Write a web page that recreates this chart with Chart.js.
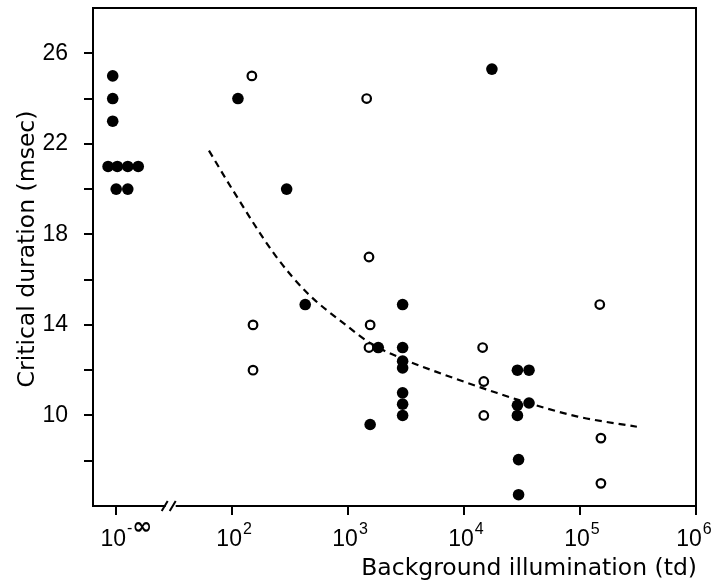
<!DOCTYPE html>
<html lang="en">
<head>
    <meta charset="UTF-8">
    <title>Critical duration vs background illumination</title>
    <script src="https://cdn.jsdelivr.net/npm/chart.js"></script>
    <style>
        html, body { margin: 0; padding: 0; background: #fff; }
        #wrap { width: 713px; height: 580px; }
    </style>
</head>
<body>
    <div id="wrap"><canvas id="durationChart"></canvas></div>

    <script>
        // x values are log10 of illumination (td); 1 stands for the 10^-inf column
        const tickPos = [1, 2, 3, 4, 5, 6];
        const tickBase = '10';
        const tickExp = ['-∞', '2', '3', '4', '5', '6'];
        const yLabelled = [10, 14, 18, 22, 26];

        // filled circles
        const filledX = [0.97, 0.97, 0.97, 0.93, 1.01, 1.10, 1.19, 1.00, 1.10,
                         2.05, 2.47, 2.63, 3.19, 3.26,
                         3.47, 3.47, 3.47, 3.47, 3.47, 3.47, 3.47,
                         4.24, 4.46, 4.56, 4.46, 4.56, 4.46, 4.47, 4.47];
        const filledY = [25, 24, 23, 21, 21, 21, 21, 20, 20,
                         24, 20, 14.9, 9.6, 13,
                         14.9, 13, 12.4, 12.1, 11, 10.5, 10,
                         25.3, 12, 12, 10.45, 10.55, 10, 8.05, 6.5];

        // open circles
        const openX = [2.17, 3.16, 2.18, 2.18, 3.18, 3.19, 3.18, 4.16, 4.17, 4.17, 5.17, 5.18, 5.18];
        const openY = [25, 24, 14, 12, 17, 14, 13, 13, 11.5, 10, 14.9, 9, 7];

        // dashed fitted curve
        const curveX = [1.80, 2.00, 2.375, 2.65, 2.98, 3.19, 3.47, 3.83, 4.28, 4.46, 4.98, 5.49];
        const curveY = [21.7, 20.0, 17.05, 15.4, 14.0, 13.2, 12.5, 11.8, 11.0, 10.7, 9.95, 9.5];

        const pts = (xs, ys) => xs.map((x, i) => ({ x: x, y: ys[i] }));

        // frame, // break, x tick labels with exponents, axis titles
        const framePlugin = {
            id: 'frame',
            afterDraw(chart) {
                const { ctx, chartArea: a, scales } = chart;
                ctx.save();
                ctx.strokeStyle = '#000';
                ctx.lineWidth = 2;
                ctx.strokeRect(a.left, a.top, a.right - a.left, a.bottom - a.top);

                const bx = scales.x.getPixelForValue(1.47);
                ctx.fillStyle = '#fff';
                ctx.fillRect(bx - 5, a.bottom - 3, 10, 6);
                ctx.beginPath();
                ctx.moveTo(bx - 9, a.bottom + 5);
                ctx.lineTo(bx - 3, a.bottom - 5);
                ctx.moveTo(bx - 1, a.bottom + 5);
                ctx.lineTo(bx + 5, a.bottom - 5);
                ctx.stroke();

                ctx.fillStyle = '#000';
                ctx.textBaseline = 'alphabetic';
                tickPos.forEach((v, i) => {
                    const shift = i === tickPos.length - 1 ? 7 : 3;
                    const px = scales.x.getPixelForValue(v) - shift;
                    ctx.font = '23px "Liberation Sans"';
                    ctx.textAlign = 'center';
                    ctx.fillText(tickBase, px, a.bottom + 40);
                    const w = ctx.measureText(tickBase).width;
                    ctx.textAlign = 'left';
                    const ex = px + w / 2 + 1;
                    if (tickExp[i] === '-∞') {
                        ctx.font = '16px "Liberation Sans"';
                        ctx.fillText('-', ex, a.bottom + 27);
                        const mw = ctx.measureText('-').width;
                        ctx.font = 'bold 24px "DejaVu Sans"';
                        ctx.fillText('∞', ex + mw, a.bottom + 28);
                    } else {
                        ctx.font = '16px "Liberation Sans"';
                        ctx.fillText(tickExp[i], ex, a.bottom + 28);
                    }
                });

                ctx.font = '23.5px "DejaVu Sans"';
                ctx.textBaseline = 'middle';
                ctx.textAlign = 'right';
                ctx.fillText('Background illumination (td)', a.right + 1, 569);

                ctx.translate(28, 249);
                ctx.rotate(-Math.PI / 2);
                ctx.textAlign = 'center';
                ctx.fillText('Critical duration (msec)', 0, 0);
                ctx.restore();
            }
        };

        const ctx = document.getElementById('durationChart').getContext('2d');
        new Chart(ctx, {
            type: 'scatter',
            data: {
                datasets: [
                    {
                        type: 'line',
                        data: pts(curveX, curveY),
                        borderColor: '#000',
                        borderWidth: 2.2,
                        borderDash: [7, 5],
                        pointRadius: 0,
                        fill: false,
                        cubicInterpolationMode: 'monotone',
                        order: 3
                    },
                    {
                        data: pts(openX, openY),
                        backgroundColor: '#fff',
                        borderColor: '#000',
                        borderWidth: 2.2,
                        pointRadius: 4.3,
                        order: 2
                    },
                    {
                        data: pts(filledX, filledY),
                        backgroundColor: '#000',
                        borderColor: '#000',
                        borderWidth: 0,
                        pointRadius: 5.8,
                        order: 1
                    }
                ]
            },
            options: {
                responsive: true,
                maintainAspectRatio: false,
                animation: false,
                layout: { padding: { top: 8, right: 17, left: 0, bottom: 0 } },
                plugins: {
                    legend: { display: false },
                    tooltip: { enabled: false }
                },
                scales: {
                    x: {
                        type: 'linear',
                        min: 0.8,
                        max: 6,
                        afterBuildTicks: (s) => { s.ticks = tickPos.map(v => ({ value: v })); },
                        afterFit: (s) => {
                            s.height = 74;
                            s.paddingLeft = 0;
                            s.paddingRight = 0;
                        },
                        ticks: { display: false },
                        grid: { drawOnChartArea: false, tickLength: 9, color: '#000', lineWidth: 2 },
                        border: { display: true, color: '#000', width: 2 }
                    },
                    y: {
                        min: 6,
                        max: 28,
                        afterBuildTicks: (s) => {
                            const t = [];
                            for (let v = 8; v <= 26; v += 2) t.push({ value: v });
                            s.ticks = t;
                        },
                        afterFit: (s) => {
                            s.width = 93;
                            s.paddingTop = 0;
                            s.paddingBottom = 0;
                        },
                        ticks: {
                            color: '#000',
                            padding: 16,
                            font: { family: 'Liberation Sans', size: 23 },
                            callback: (v) => yLabelled.includes(v) ? String(v) : ''
                        },
                        grid: { drawOnChartArea: false, tickLength: 9, color: '#000', lineWidth: 2 },
                        border: { display: true, color: '#000', width: 2 }
                    }
                }
            },
            plugins: [framePlugin]
        });
    </script>
</body>
</html>
